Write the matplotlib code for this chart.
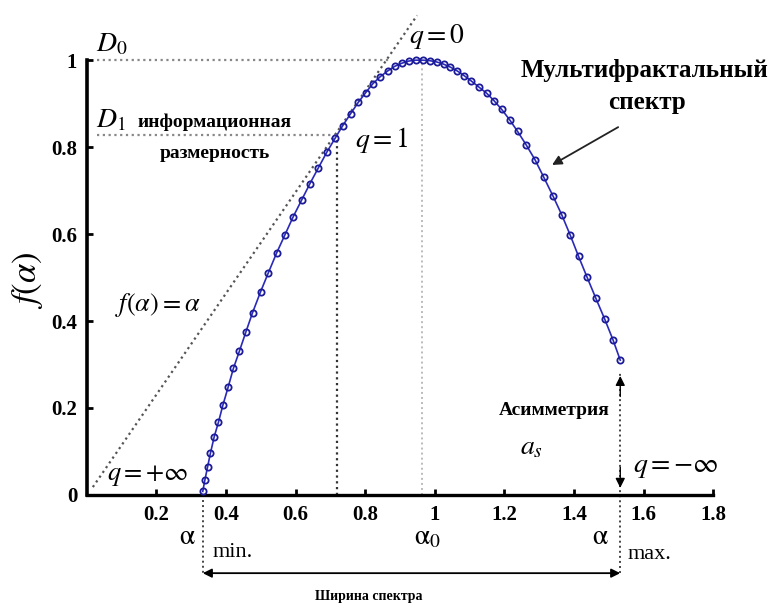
"""Multifractal spectrum f(alpha) with annotated characteristic points.

Output: out.png
"""

from __future__ import annotations

import matplotlib

matplotlib.use("Agg")
import matplotlib.pyplot as plt

ALPHA = [0.333, 0.339, 0.347, 0.355, 0.366, 0.378, 0.391, 0.406, 0.421, 0.438,
         0.457, 0.476, 0.499, 0.521, 0.545, 0.569, 0.593, 0.617, 0.641, 0.665,
         0.690, 0.713, 0.735, 0.758, 0.780, 0.801, 0.822, 0.843, 0.864, 0.885,
         0.905, 0.925, 0.945, 0.965, 0.985, 1.005, 1.025, 1.045, 1.065, 1.085,
         1.105, 1.127, 1.149, 1.170, 1.192, 1.215, 1.238, 1.262, 1.288, 1.313,
         1.340, 1.365, 1.389, 1.413, 1.437, 1.463, 1.488, 1.512, 1.533]
F_ALPHA = [0.008, 0.034, 0.065, 0.096, 0.134, 0.167, 0.207, 0.248, 0.291, 0.330,
           0.375, 0.419, 0.467, 0.510, 0.556, 0.598, 0.640, 0.678, 0.716, 0.752,
           0.789, 0.820, 0.849, 0.877, 0.903, 0.925, 0.946, 0.962, 0.975, 0.986,
           0.993, 0.998, 1.000, 1.000, 0.999, 0.996, 0.991, 0.984, 0.975, 0.964,
           0.952, 0.938, 0.924, 0.907, 0.887, 0.863, 0.836, 0.806, 0.771, 0.731,
           0.687, 0.644, 0.598, 0.549, 0.502, 0.452, 0.405, 0.357, 0.310]

# dotted line labelled f(a) = a, as drawn in the picture
DIAG_X = [0.017, 0.949]
DIAG_Y = [0.018, 1.103]

ALPHA_MIN = 0.333
ALPHA_MAX = 1.533
ALPHA_0 = 0.962
ALPHA_Q1 = 0.72
D0 = 1.0
D1 = 0.828
F_AT_MAX = 0.31

X_TICKS = [0.2, 0.4, 0.6, 0.8, 1.0, 1.2, 1.4, 1.6, 1.8]
X_TICK_LABELS = ["0.2", "0.4", "0.6", "0.8", "1", "1.2", "1.4", "1.6", "1.8"]
Y_TICKS = [0, 0.2, 0.4, 0.6, 0.8, 1.0]
Y_TICK_LABELS = ["0", "0.2", "0.4", "0.6", "0.8", "1"]

SERIF = ["Liberation Serif", "DejaVu Serif"]


def main() -> None:
    plt.rcParams["font.family"] = SERIF
    plt.rcParams["mathtext.fontset"] = "stix"

    fig = plt.figure(figsize=(7.76, 6.08), dpi=100)
    ax = fig.add_axes([0.112, 0.186, 0.807, 0.715])
    ax.set_xlim(0, 1.8)
    ax.set_ylim(0, 1.0)

    dot = (0, (1, 1.6))
    # reference lines
    ax.plot(DIAG_X, DIAG_Y, color="#555555", linestyle=dot, lw=1.6, clip_on=False)
    ax.plot([0.03, 0.87], [D0, D0], color="#888888", linestyle=dot, lw=1.6, clip_on=False)
    ax.plot([0.03, ALPHA_Q1], [D1, D1], color="#888888", linestyle=dot, lw=1.6)
    ax.plot([ALPHA_Q1, ALPHA_Q1], [0, D1], color="#333333", linestyle=dot, lw=1.6)
    ax.plot([ALPHA_0, ALPHA_0], [0, D0], color="#bbbbbb", linestyle=dot, lw=1.4)
    ax.plot([ALPHA_MIN, ALPHA_MIN], [0, -0.18], color="#444444", linestyle=dot,
            lw=1.4, clip_on=False)
    ax.plot([ALPHA_MAX, ALPHA_MAX], [-0.18, F_AT_MAX - 0.03], color="#444444",
            linestyle=dot, lw=1.4, clip_on=False)

    # spectrum
    ax.plot(ALPHA, F_ALPHA, color="#2a2ab8", lw=1.2, marker="o", markersize=4.5,
            markerfacecolor="none", markeredgecolor="#1c1c9a", markeredgewidth=1.3,
            clip_on=False, zorder=5)

    # asymmetry arrow heads
    arrow = dict(arrowstyle="-|>", color="black", lw=1.0, mutation_scale=14)
    ax.annotate("", xy=(ALPHA_MAX, F_AT_MAX - 0.03), xytext=(ALPHA_MAX, F_AT_MAX - 0.09),
                arrowprops=arrow)
    ax.annotate("", xy=(ALPHA_MAX, 0.01), xytext=(ALPHA_MAX, 0.07), arrowprops=arrow)

    # width arrow
    ax.annotate("", xy=(ALPHA_MIN, -0.18), xytext=(ALPHA_MAX, -0.18),
                xycoords="data", annotation_clip=False,
                arrowprops=dict(arrowstyle="<|-|>", color="black", lw=1.3,
                                mutation_scale=13, shrinkA=0, shrinkB=0))

    # pointer to spectrum
    ax.annotate("", xy=(1.337, 0.759), xytext=(1.527, 0.846),
                arrowprops=dict(arrowstyle="-|>", color="#222222", lw=1.3,
                                mutation_scale=14, shrinkA=0, shrinkB=0))

    # axes styling
    for side in ("top", "right"):
        ax.spines[side].set_visible(False)
    ax.spines["left"].set_linewidth(2.6)
    ax.spines["bottom"].set_linewidth(2.4)
    ax.set_xticks(X_TICKS)
    ax.set_xticklabels(X_TICK_LABELS)
    ax.set_yticks(Y_TICKS)
    ax.set_yticklabels(Y_TICK_LABELS)
    ax.tick_params(axis="both", direction="in", length=4, width=2, labelsize=15,
                   pad=7)
    for lab in ax.get_xticklabels() + ax.get_yticklabels():
        lab.set_fontweight("bold")

    ax.text(-0.17, 0.494, r"$f(\alpha)$", fontsize=25, rotation=90,
            ha="center", va="center")

    txt = dict(ha="left", va="center", clip_on=False)
    ax.text(0.025, 1.035, r"$D_0$", fontsize=20, **txt)
    ax.text(0.025, 0.862, r"$D_1$", fontsize=20, **txt)
    ax.text(0.368, 0.857, "информационная", fontsize=14, fontweight="bold",
            ha="center", va="center")
    ax.text(0.368, 0.786, "размерность", fontsize=14, fontweight="bold",
            ha="center", va="center")
    ax.text(0.77, 0.816, r"$q = 1$", fontsize=20, **txt)
    ax.text(0.925, 1.055, r"$q = 0$", fontsize=20, **txt)
    ax.text(1.604, 0.977, "Мультифрактальный", fontsize=18, fontweight="bold",
            ha="center", va="center", clip_on=False)
    ax.text(1.61, 0.903, "спектр", fontsize=18, fontweight="bold",
            ha="center", va="center", clip_on=False)
    ax.text(0.08, 0.437, r"$f(\alpha) = \alpha$", fontsize=19, **txt)
    ax.text(0.058, 0.045, r"$q = +\infty$", fontsize=19, **txt)
    ax.text(1.504, 0.195, "Асимметрия", fontsize=14, fontweight="bold",
            ha="right", va="center")
    ax.text(1.279, 0.108, r"$a_s$", fontsize=20, ha="center", va="center")
    ax.text(1.57, 0.062, r"$q = -\infty$", fontsize=20, **txt)

    ax.text(0.29, -0.097, r"$\mathrm{\alpha}$", fontsize=20, ha="center", va="center",
            clip_on=False)
    ax.text(0.362, -0.133, "min.", fontsize=16, **txt)
    ax.text(0.978, -0.099, r"$\mathrm{\alpha}_0$", fontsize=20, ha="center",
            va="center", clip_on=False)
    ax.text(1.475, -0.097, r"$\mathrm{\alpha}$", fontsize=20, ha="center",
            va="center", clip_on=False)
    ax.text(1.553, -0.136, "max.", fontsize=16, **txt)
    ax.text(0.81, -0.234, "Ширина спектра", fontsize=10, fontweight="bold",
            ha="center", va="center", clip_on=False)

    fig.savefig("out.png", dpi=100)


if __name__ == "__main__":
    main()
